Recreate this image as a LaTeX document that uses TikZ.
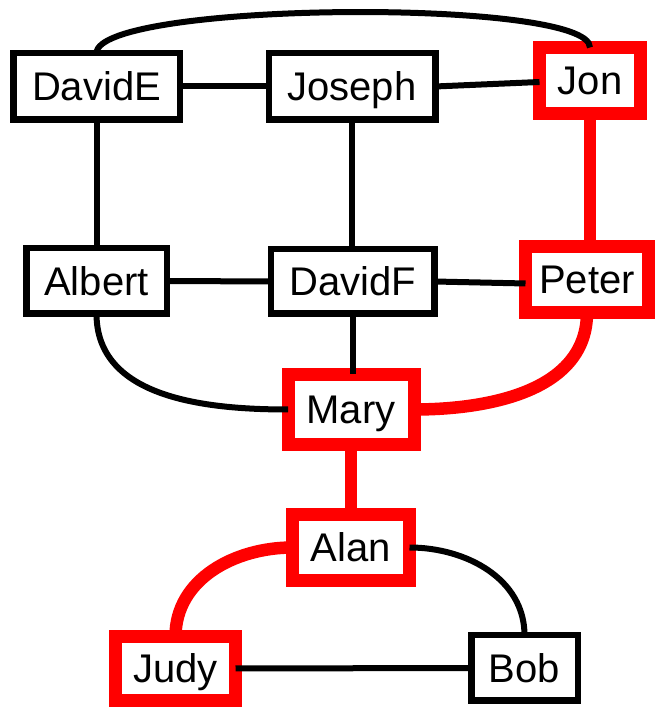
\documentclass[tikz,border=0pt]{standalone}
\usepackage{fontspec}
\setmainfont{Liberation Sans}
\usetikzlibrary{calc}
\definecolor{hred}{RGB}{255,0,0}
\tikzset{
  person/.style={draw=black, line width=6.5pt, fill=white, inner sep=0pt, outer sep=0pt,
    text height=29pt, text depth=0pt, font=\fontsize{40}{48}\selectfont},
  hot/.style={person, draw=hred, line width=13pt},
  link/.style={line width=6pt, draw=black},
  hotlink/.style={line width=12.5pt, draw=hred},
}
\begin{document}
\begin{tikzpicture}[x=1pt,y=1pt]
\useasboundingbox (0,0) rectangle (656,708);
% nodes
\node[person, minimum width=166.5pt, minimum height=66.5pt] (DavidE) at (96.5,621.5) {DavidE};
\node[person, minimum width=166.5pt, minimum height=66.5pt] (Joseph) at (352,621.5) {Joseph};
\node[hot, minimum width=101pt, minimum height=66pt] (Jon) at (590,627.5) {Jon};
\node[person, minimum width=140.5pt, minimum height=65.5pt] (Albert) at (96.5,427) {Albert};
\node[person, minimum width=163.5pt, minimum height=64.5pt] (DavidF) at (352.5,426.5) {DavidF};
\node[hot, minimum width=123pt, minimum height=66pt] (Peter) at (587,428.5) {Peter};
\node[hot, minimum width=126pt, minimum height=70pt] (Mary) at (351,298.5) {Mary};
\node[hot, minimum width=117pt, minimum height=66pt] (Alan) at (351,160.5) {Alan};
\node[hot, minimum width=120pt, minimum height=64pt] (Judy) at (175.5,39.5) {Judy};
\node[person, minimum width=106.5pt, minimum height=65.5pt] (Bob) at (524.5,40) {Bob};
% black connectors
\draw[link] (DavidE.north) .. controls +(0,52) and +(0,50) .. (Jon.north);
\draw[link] (DavidE.east) -- (Joseph.west);
\draw[link] (Joseph.east) -- ([yshift=-1.5pt]Jon.west);
\draw[link] (DavidE.south) -- (Albert.north);
\draw[link] (Joseph.south) -- (Joseph.south |- DavidF.north);
\draw[link] (Albert.east) -- (DavidF.west);
\draw[link] (DavidF.east) -- ([yshift=-4pt]Peter.west);
\draw[link] (DavidF.south) -- (DavidF.south |- Mary.north);
\draw[link] (Albert.south) to[out=-90,in=180] (Mary.west);
\draw[link] (Alan.east) to[out=0,in=90] (Bob.north);
\draw[link] (Judy.east) -- (Bob.west);
% red connectors
\draw[hotlink] (Jon.south) -- (Jon.south |- Peter.north);
\draw[hotlink] (Peter.south) to[out=-90,in=0] (Mary.east);
\draw[hotlink] (Mary.south) -- (Alan.north);
\draw[hotlink] (Alan.west) to[out=180,in=90] (Judy.north);
\end{tikzpicture}
\end{document}
